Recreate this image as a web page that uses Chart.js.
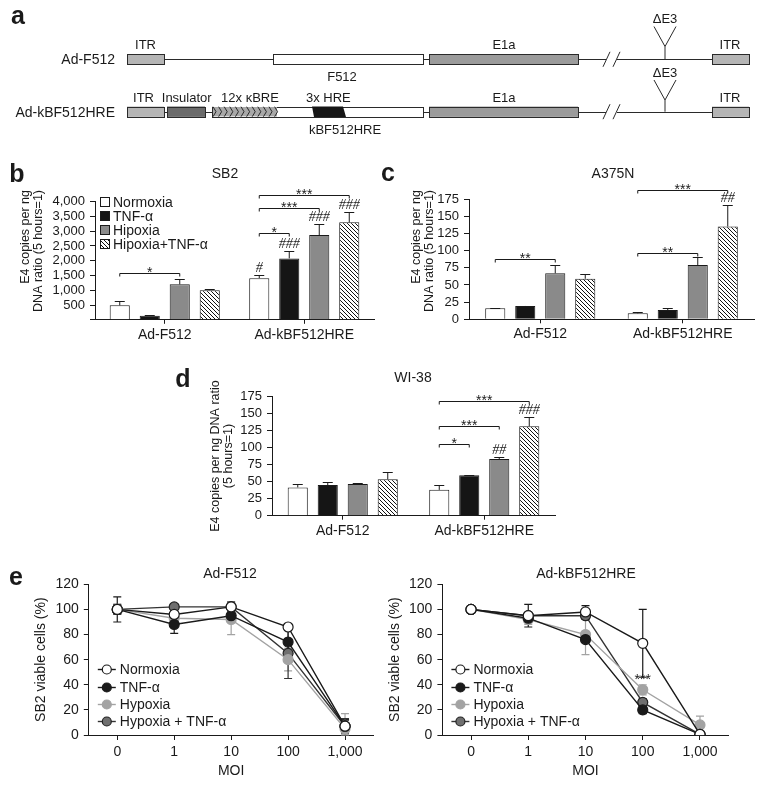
<!DOCTYPE html>
<html>
<head>
<meta charset="utf-8">
<script src="https://cdn.jsdelivr.net/npm/chart.js@4.4.1/dist/chart.umd.min.js"></script>
<style>
  body { margin: 0; background: #fff; }
  #fig { position: relative; width: 762px; height: 787px; overflow: hidden;
         font-family: 'Liberation Sans', Arial, sans-serif; color: #1a1a1a; }
  #fig canvas { position: absolute; left: 0; top: 0; }
  .t { position: absolute; transform: translate(-50%, -50%); white-space: nowrap; font-size: 14px; line-height: 1; }
  .L { position: absolute; transform: translate(-50%, -50%); font-weight: bold; font-size: 25px; line-height: 1; }
</style>
</head>
<body>
<div id="fig">
  <canvas id="map" width="762" height="787"></canvas>
  <canvas id="sb2" width="762" height="787"></canvas>
  <canvas id="a375n" width="762" height="787"></canvas>
  <canvas id="wi38" width="762" height="787"></canvas>
  <canvas id="f512" width="762" height="787"></canvas>
  <canvas id="kbf" width="762" height="787"></canvas>

  <div class="L" style="left:18px;top:15px">a</div>
  <div class="L" style="left:17px;top:173px">b</div>
  <div class="L" style="left:388px;top:172px">c</div>
  <div class="L" style="left:183px;top:378px">d</div>
  <div class="L" style="left:16px;top:576px">e</div>

  <div class="t" style="left:225px;top:173px">SB2</div>
  <div class="t" style="left:613px;top:173px">A375N</div>
  <div class="t" style="left:413px;top:377px">WI-38</div>
  <div class="t" style="left:230px;top:573px">Ad-F512</div>
  <div class="t" style="left:586px;top:573px">Ad-kBF512HRE</div>
</div>

<script>
// ---- data ----
const groups = ['Ad-F512', 'Ad-kBF512HRE'];
const treatments = ['Normoxia', 'TNF-α', 'Hipoxia', 'Hipoxia+TNF-α'];

// b: SB2
const sb2Normoxia = [490, 1410];
const sb2Tnf = [140, 2080];
const sb2Hipoxia = [1200, 2870];
const sb2HipTnf = [1000, 3300];
const sb2Err = [[140, 110], [20, 260], [180, 370], [60, 350]];
const sb2Sig = [[0, 0, 2, 1590, '*'], [1, 0, 1, 2950, '*'], [1, 0, 2, 3790, '***'], [1, 0, 3, 4230, '***']];
const sb2Hash = [[1, 0, '#'], [1, 1, '###'], [1, 2, '###'], [1, 3, '###']];

// c: A375N
const a375nNormoxia = [16, 8.7];
const a375nTnf = [19.4, 13.5];
const a375nHipoxia = [67, 79];
const a375nHipTnf = [59, 135];
const a375nErr = [[0.5, 1.5], [0.5, 2.5], [12, 11], [7.5, 31.5]];
const a375nSig = [[0, 0, 2, 87.5, '**'], [1, 0, 2, 97, '**'], [1, 0, 3, 188, '***']];
const a375nHash = [[1, 3, '##']];

// d: WI-38
const wi38Normoxia = [41.6, 38];
const wi38Tnf = [45, 59.4];
const wi38Hipoxia = [46.6, 83.4];
const wi38HipTnf = [53.5, 131.4];
const wi38Err = [[4.4, 6.7], [5, 0.6], [1.4, 2.6], [10.3, 13.3]];
const wi38Sig = [[1, 0, 1, 105.4, '*'], [1, 0, 2, 132, '***'], [1, 0, 3, 168, '***']];
const wi38Hash = [[1, 2, '##'], [1, 3, '###']];

// e: viability vs MOI
const moi = ['0', '1', '10', '100', '1,000'];
const series = ['Normoxia', 'TNF-α', 'Hypoxia', 'Hypoxia + TNF-α'];
const f512Normoxia = [100, 96, 102, 86, 7];
const f512Tnf = [100, 88, 95, 74, 7];
const f512Hypoxia = [100, 93, 92, 60, 5];
const f512HypTnf = [100, 102, 102, 65, 7];
const f512Err = [[3, 2, 3, 2, 5], [10, 7, 4, 12, 5], [4, 4, 12, 9, 12], [4, 2, 4, 20, 6]];
const kbfNormoxia = [100, 95, 98, 73, 0.5];
const kbfTnf = [100, 93, 76, 20, 0.5];
const kbfHypoxia = [100, 92, 80, 36, 8];
const kbfHypTnf = [100, 95, 95, 26, 0.5];
const kbfErr = [[3, 9, 5, 27, 1], [2, 2, 2, 3, 1], [2, 4, 16, 4, 7], [2, 2, 3, 3, 1]];
const kbfStars = [[3, 43.8, '***']];

// ---- styling ----
const INK = '#1a1a1a';
const SANS = "'Liberation Sans', Arial, sans-serif";
Chart.defaults.font.family = SANS;
Chart.defaults.color = INK;
Chart.defaults.animation = false;

function hatch() {
  const c = document.createElement('canvas');
  c.width = c.height = 4;
  const g = c.getContext('2d');
  g.fillStyle = '#fff';
  g.fillRect(0, 0, 4, 4);
  g.strokeStyle = '#111';
  g.lineWidth = 1;
  g.beginPath();
  g.moveTo(0, 0); g.lineTo(4, 4);
  g.moveTo(-1, 3); g.lineTo(1, 5);
  g.moveTo(3, -1); g.lineTo(5, 1);
  g.stroke();
  return g.createPattern(c, 'repeat');
}
const barFills = ['#ffffff', '#151515', '#8a8a8a', hatch()];

const lineCols = [INK, INK, '#a3a3a3', '#333333'];
const dotFills = ['#ffffff', INK, '#a3a3a3', '#6f6f6f'];
const dotEdges = [INK, INK, '#a3a3a3', '#222222'];

function pad(area, yW, xH) {
  return { left: area.l - yW, top: area.t, right: 762 - area.r, bottom: 787 - area.b - xH };
}

// error bars, significance brackets, # marks, legend and y title for the bar panels
const barExtras = {
  id: 'barExtras',
  afterDatasetsDraw(chart, args, o) {
    const ctx = chart.ctx, ys = chart.scales.y;
    const barAt = (i, g) => chart.getDatasetMeta(i).data[g];
    const topOf = (i, g) => ys.getPixelForValue(chart.data.datasets[i].data[g] + o.err[i][g]);
    ctx.save();
    ctx.strokeStyle = INK;
    ctx.fillStyle = INK;
    ctx.lineWidth = 1;

    o.err.forEach((errs, i) => errs.forEach((e, g) => {
      const b = barAt(i, g), top = Math.round(topOf(i, g)) + 0.5;
      ctx.beginPath();
      ctx.moveTo(b.x, b.y); ctx.lineTo(b.x, top);
      ctx.moveTo(b.x - 5, top); ctx.lineTo(b.x + 5, top);
      ctx.stroke();
    }));

    ctx.textAlign = 'center';
    ctx.textBaseline = 'alphabetic';
    ctx.font = '14px ' + SANS;
    o.sig.forEach(([g, a, b, v, txt]) => {
      const x1 = barAt(a, g).x, x2 = barAt(b, g).x;
      const y = Math.round(ys.getPixelForValue(v)) + 0.5;
      ctx.beginPath();
      ctx.moveTo(x1, y + 3); ctx.lineTo(x1, y); ctx.lineTo(x2, y); ctx.lineTo(x2, y + 3);
      ctx.stroke();
      ctx.fillText(txt, (x1 + x2) / 2, y + 3);
    });

    ctx.font = 'italic 14px "Liberation Serif", serif';
    o.hash.forEach(([g, i, txt]) => ctx.fillText(txt, barAt(i, g).x, topOf(i, g) - 3));

    if (o.legend) {
      const L = o.legend;
      ctx.font = '14px ' + SANS;
      ctx.textAlign = 'left';
      ctx.textBaseline = 'middle';
      chart.data.datasets.forEach((ds, i) => {
        const y = Math.round(L.y + i * L.dy);
        ctx.fillStyle = ds.backgroundColor;
        ctx.fillRect(L.x, y - 5, 10, 10);
        ctx.strokeRect(L.x + 0.5, y - 4.5, 9, 9);
        ctx.fillStyle = INK;
        ctx.fillText(ds.label, L.x + 13, y + 1);
      });
    }

    const T = o.ytitle;
    ctx.font = '12.5px ' + SANS;
    ctx.textBaseline = 'middle';
    T.lines.forEach((txt, k) => {
      ctx.save();
      ctx.translate(T.xs[k], T.y);
      ctx.rotate(-Math.PI / 2);
      ctx.textAlign = T.align;
      ctx.fillText(txt, 0, 0);
      ctx.restore();
    });
    ctx.restore();
  }
};

function barPanel(id, cfg) {
  const yW = 50, xH = 30;
  const slot = (cfg.area.r - cfg.area.l) / groups.length;
  new Chart(document.getElementById(id), {
    type: 'bar',
    data: {
      labels: groups,
      datasets: treatments.map((t, i) => ({
        label: t,
        data: cfg.values[i],
        backgroundColor: barFills[i],
        borderColor: INK,
        borderWidth: 1,
        barPercentage: 0.67,
        categoryPercentage: 120 / slot
      }))
    },
    options: {
      responsive: false,
      layout: { padding: pad(cfg.area, yW, xH) },
      plugins: {
        legend: { display: false },
        tooltip: { enabled: false },
        barExtras: { err: cfg.err, sig: cfg.sig, hash: cfg.hash, ytitle: cfg.ytitle, legend: cfg.legend }
      },
      scales: {
        x: {
          grid: { drawOnChartArea: false, offset: false, tickLength: 4, color: INK },
          border: { color: INK },
          ticks: { padding: 2.8, font: { size: 14 }, color: INK },
          afterFit: s => { s.height = xH; }
        },
        y: {
          min: 0,
          max: cfg.yMax,
          ticks: {
            stepSize: cfg.yStep, padding: 5, font: { size: 13, lineHeight: 1 }, color: INK,
            autoSkip: false, maxTicksLimit: 20,
            callback: cfg.tickFmt
          },
          grid: { drawOnChartArea: false, tickLength: 5, color: INK },
          border: { color: INK },
          afterFit: s => { s.width = yW; }
        }
      }
    },
    plugins: [barExtras]
  });
}

barPanel('sb2', {
  area: { l: 95, t: 201.7, r: 374, b: 319.8 },
  values: [sb2Normoxia, sb2Tnf, sb2Hipoxia, sb2HipTnf],
  err: sb2Err, sig: sb2Sig, hash: sb2Hash,
  yMax: 4000, yStep: 500,
  tickFmt: v => v === 0 ? '' : v.toLocaleString('en-US'),
  legend: { x: 100, y: 201.7, dy: 14.1 },
  ytitle: { lines: ['E4 copies per ng', 'DNA ratio (5 hours=1)'], xs: [26, 39], y: 190, align: 'right' }
});

barPanel('a375n', {
  area: { l: 469, t: 199, r: 754, b: 319.3 },
  values: [a375nNormoxia, a375nTnf, a375nHipoxia, a375nHipTnf],
  err: a375nErr, sig: a375nSig, hash: a375nHash,
  yMax: 175, yStep: 25,
  tickFmt: v => v,
  ytitle: { lines: ['E4 copies per ng', 'DNA ratio (5 hours=1)'], xs: [417, 430], y: 190, align: 'right' }
});

barPanel('wi38', {
  area: { l: 272, t: 396.7, r: 555, b: 515.7 },
  values: [wi38Normoxia, wi38Tnf, wi38Hipoxia, wi38HipTnf],
  err: wi38Err, sig: wi38Sig, hash: wi38Hash,
  yMax: 175, yStep: 25,
  tickFmt: v => v,
  ytitle: { lines: ['E4 copies per ng DNA ratio', '(5 hours=1)'], xs: [216, 229], y: 456, align: 'center' }
});

// error bars (behind the dots), legend and stars for the MOI panels
const lineExtras = {
  id: 'lineExtras',
  beforeDatasetsDraw(chart, args, o) {
    const ctx = chart.ctx, ys = chart.scales.y;
    ctx.save();
    ctx.lineWidth = 1.2;
    o.err.forEach((errs, i) => {
      const ds = chart.data.datasets[i];
      ctx.strokeStyle = ds.borderColor;
      chart.getDatasetMeta(i).data.forEach((p, k) => {
        const v = ds.data[k], e = errs[k];
        const hi = ys.getPixelForValue(v + e), lo = ys.getPixelForValue(Math.max(v - e, 0));
        ctx.beginPath();
        ctx.moveTo(p.x, lo); ctx.lineTo(p.x, hi);
        ctx.moveTo(p.x - 4, hi); ctx.lineTo(p.x + 4, hi);
        ctx.moveTo(p.x - 4, lo); ctx.lineTo(p.x + 4, lo);
        ctx.stroke();
      });
    });
    ctx.restore();
  },
  afterDatasetsDraw(chart, args, o) {
    const ctx = chart.ctx, a = chart.chartArea;
    ctx.save();
    ctx.font = '14px ' + SANS;
    ctx.textBaseline = 'middle';
    ctx.textAlign = 'left';
    chart.data.datasets.forEach((ds, i) => {
      const y = Math.round(a.top + 85 + i * 17.2) + 0.5, x = a.left;
      ctx.strokeStyle = ds.borderColor;
      ctx.lineWidth = 1.4;
      ctx.beginPath(); ctx.moveTo(x + 9, y); ctx.lineTo(x + 27, y); ctx.stroke();
      ctx.beginPath(); ctx.arc(x + 18, y, 4.5, 0, Math.PI * 2);
      ctx.fillStyle = ds.pointBackgroundColor; ctx.fill();
      ctx.strokeStyle = ds.pointBorderColor; ctx.lineWidth = 1.2; ctx.stroke();
      ctx.fillStyle = INK;
      ctx.fillText(ds.label, x + 31, y + 1);
    });
    ctx.textAlign = 'center';
    ctx.textBaseline = 'alphabetic';
    (o.stars || []).forEach(([k, v, txt]) => {
      ctx.fillText(txt, chart.scales.x.getPixelForValue(k), chart.scales.y.getPixelForValue(v) + 4);
    });
    ctx.restore();
  }
};

function linePanel(id, cfg) {
  const xH = 45, yW = cfg.area.l - (cfg.titleX - 8.4);
  new Chart(document.getElementById(id), {
    type: 'line',
    data: {
      labels: moi,
      datasets: series.map((s, i) => ({
        label: s,
        data: cfg.values[i],
        borderColor: lineCols[i],
        backgroundColor: dotFills[i],
        pointBackgroundColor: dotFills[i],
        pointBorderColor: dotEdges[i],
        pointRadius: 5,
        pointBorderWidth: 1.2,
        borderWidth: 1.4,
        tension: 0
      }))
    },
    options: {
      responsive: false,
      layout: { padding: pad(cfg.area, yW, xH) },
      plugins: {
        legend: { display: false },
        tooltip: { enabled: false },
        lineExtras: { err: cfg.err, stars: cfg.stars }
      },
      scales: {
        x: {
          offset: true,
          grid: { drawOnChartArea: false, offset: false, tickLength: 5, color: INK },
          border: { color: INK },
          ticks: { padding: 3.3, font: { size: 14 }, color: INK, autoSkip: false },
          title: { display: true, text: 'MOI', font: { size: 14 }, padding: 0, color: INK },
          afterFit: s => { s.height = xH; }
        },
        y: {
          min: 0,
          max: 120,
          ticks: { stepSize: 20, padding: 5, font: { size: 14 }, color: INK, autoSkip: false },
          grid: { drawOnChartArea: false, tickLength: 5, color: INK },
          border: { color: INK },
          title: { display: true, text: 'SB2 viable cells (%)', font: { size: 14 }, padding: 0, color: INK },
          afterFit: s => { s.width = yW; }
        }
      }
    },
    plugins: [lineExtras]
  });
}

linePanel('f512', {
  area: { l: 88.8, t: 584.3, r: 373.5, b: 735 },
  titleX: 41,
  values: [f512Normoxia, f512Tnf, f512Hypoxia, f512HypTnf],
  err: f512Err
});

linePanel('kbf', {
  area: { l: 442.4, t: 584.3, r: 728.6, b: 735 },
  titleX: 395,
  values: [kbfNormoxia, kbfTnf, kbfHypoxia, kbfHypTnf],
  err: kbfErr,
  stars: kbfStars
});

// ---- panel a: construct maps ----
function drawMap() {
  const g = document.getElementById('map').getContext('2d');
  g.strokeStyle = '#2a2a2a';
  g.lineWidth = 1;
  const box = (x1, x2, yc, fill) => {
    g.fillStyle = fill;
    g.fillRect(x1, yc - 5.2, x2 - x1, 10.4);
    g.strokeRect(Math.round(x1) + 0.5, Math.round(yc - 5.2) + 0.5, Math.round(x2 - x1), 10);
  };
  const text = (s, x, y, align, size) => {
    g.font = (size || 13) + 'px ' + SANS;
    g.textAlign = align || 'center';
    g.textBaseline = 'middle';
    g.fillStyle = INK;
    g.fillText(s, x, y);
  };
  const backbone = yc => {
    const y = Math.round(yc) + 0.5;
    g.beginPath();
    g.moveTo(127, y); g.lineTo(606, y);
    g.moveTo(617, y); g.lineTo(749, y);
    g.moveTo(603, yc + 7.5); g.lineTo(610, yc - 7.5);
    g.moveTo(613, yc + 7.5); g.lineTo(620, yc - 7.5);
    g.stroke();
  };
  const deltaE3 = (yc, armTop) => {
    g.beginPath();
    g.moveTo(654, armTop); g.lineTo(665, armTop + 20); g.lineTo(676, armTop);
    g.moveTo(665, armTop + 20); g.lineTo(665, yc);
    g.stroke();
    text('ΔE3', 665, armTop - 7, 'center', 13);
  };

  // Ad-F512
  const y1 = 59.3;
  backbone(y1);
  box(127, 164, y1, '#b5b5b5');
  box(273, 423, y1, '#ffffff');
  box(429, 578, y1, '#9b9b9b');
  box(712, 749, y1, '#b5b5b5');
  deltaE3(y1, 26.5);
  text('Ad-F512', 115, y1 + 1, 'right', 14);
  text('ITR', 145.5, 45);
  text('E1a', 504, 45);
  text('ITR', 730, 45);
  text('F512', 342, 77);

  // Ad-kBF512HRE
  const y2 = 111.7;
  backbone(y2);
  box(127, 164, y2, '#b5b5b5');
  box(167, 205, y2, '#6b6b6b');
  box(212, 423, y2, '#ffffff');
  g.fillStyle = '#a8a8a8';
  g.fillRect(213, y2 - 4.7, 64, 9.4);
  g.beginPath();
  for (let x = 213; x < 275; x += 5.6) {
    g.moveTo(x, y2 - 5); g.lineTo(x + 3, y2); g.lineTo(x, y2 + 5);
  }
  g.stroke();
  g.fillStyle = '#161616';
  g.beginPath();
  g.moveTo(312, y2 - 5.2); g.lineTo(343, y2 - 5.2); g.lineTo(346, y2 + 5.2); g.lineTo(314, y2 + 5.2);
  g.closePath();
  g.fill();
  box(429, 578, y2, '#9b9b9b');
  box(712, 749, y2, '#b5b5b5');
  deltaE3(y2, 80);
  text('Ad-kBF512HRE', 115, y2 + 1, 'right', 14);
  text('ITR', 143.5, 98.3);
  text('Insulator', 186.7, 98.3);
  text('12x κBRE', 250, 98.3);
  text('3x HRE', 328.3, 98.3);
  text('E1a', 504, 98.3);
  text('ITR', 730, 98.3);
  text('kBF512HRE', 345, 130);
}
drawMap();
</script>
</body>
</html>
